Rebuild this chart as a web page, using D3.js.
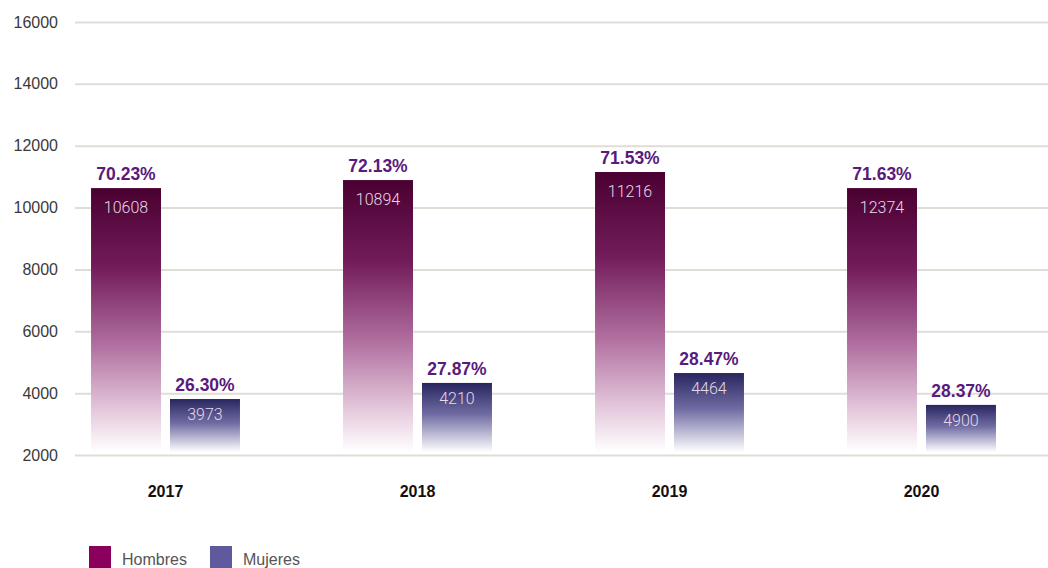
<!DOCTYPE html>
<meta charset="utf-8">
<script src="https://d3js.org/d3.v7.min.js"></script>
<style>
  body { margin: 0; background: #fff; }
  text { font-family: "Liberation Sans", Arial, sans-serif; }
</style>
<div id="my_dataviz"></div>
<script>

  // data
  var years = ["2017", "2018", "2019", "2020"];
  var series = ["Hombres", "Mujeres"];
  // bar heights as drawn
  var hombres = [10630, 10890, 11150, 10630];
  var mujeres = [3810, 4330, 4650, 3620];
  // labels as printed on the bars
  var hombresLabel = ["10608", "10894", "11216", "12374"];
  var mujeresLabel = ["3973", "4210", "4464", "4900"];
  var hombresPct = ["70.23%", "72.13%", "71.53%", "71.63%"];
  var mujeresPct = ["26.30%", "27.87%", "28.47%", "28.37%"];
  var yTicks = [2000, 4000, 6000, 8000, 10000, 12000, 14000, 16000];

  var width = 1048, height = 568;

  var svg = d3.select("#my_dataviz")
    .append("svg")
      .attr("width", width)
      .attr("height", height);

  // gradients for the bars
  var defs = svg.append("defs");
  var grads = {
    Hombres: [["0%", "#4a0031"], ["30%", "#721c5a"], ["60%", "#b271a1"], ["85%", "#e6cbde"], ["100%", "#ffffff"]],
    Mujeres: [["0%", "#29255f"], ["45%", "#6f6ba2"], ["100%", "#ffffff"]]
  };
  series.forEach(function(s) {
    var g = defs.append("linearGradient")
      .attr("id", "grad-" + s)
      .attr("x1", 0).attr("y1", 0).attr("x2", 0).attr("y2", 1);
    grads[s].forEach(function(st) {
      g.append("stop").attr("offset", st[0]).attr("stop-color", st[1]);
    });
  });

  // scales
  var y = d3.scaleLinear()
    .domain([2000, 16000])
    .range([455, 22]);

  var x = d3.scaleBand()
    .domain(years)
    .range([39.5, 1047.5])
    .paddingInner(0.409)
    .paddingOuter(0.2045);

  var xs = d3.scaleBand()
    .domain(series)
    .range([0, x.bandwidth()])
    .paddingInner(0.114);

  // y axis + gridlines
  var yAxis = svg.append("g")
    .attr("transform", "translate(75,0)")
    .call(d3.axisLeft(y)
      .tickValues(yTicks)
      .tickSize(-(width - 75))
      .tickPadding(17)
      .tickFormat(function(d) { return d; }));
  yAxis.select(".domain").remove();
  yAxis.selectAll("line")
    .attr("stroke", "#e0ddd7")
    .attr("stroke-width", 2);
  yAxis.selectAll("text")
    .style("font-size", "16px")
    .attr("fill", "#3a3a3a");

  var data = years.map(function(yr, i) {
    return [
      {year: yr, s: "Hombres", v: hombres[i], lab: hombresLabel[i], pct: hombresPct[i], off: 25},
      {year: yr, s: "Mujeres", v: mujeres[i], lab: mujeresLabel[i], pct: mujeresPct[i], off: 21}
    ];
  });

  var groups = svg.selectAll(".grp")
    .data(data)
    .enter()
    .append("g")
      .attr("class", "grp")
      .attr("transform", function(d) { return "translate(" + x(d[0].year) + ",0)"; });

  var bars = groups.selectAll(".bar")
    .data(function(d) { return d; })
    .enter()
    .append("g");

  bars.append("rect")
    .attr("x", function(d) { return xs(d.s); })
    .attr("y", function(d) { return y(d.v); })
    .attr("width", xs.bandwidth())
    .attr("height", function(d) { return y(2000) - 3 - y(d.v); })
    .attr("fill", function(d) { return "url(#grad-" + d.s + ")"; });

  // value inside the bar
  bars.append("text")
    .attr("x", function(d) { return xs(d.s) + xs.bandwidth() / 2; })
    .attr("y", function(d) { return y(d.v) + d.off; })
    .attr("text-anchor", "middle")
    .style("font-family", "Roboto, sans-serif")
    .style("font-weight", "300")
    .style("font-size", "16px")
    .attr("fill", "#e6d9e6")
    .text(function(d) { return d.lab; });

  // percentage above the bar
  bars.append("text")
    .attr("x", function(d) { return xs(d.s) + xs.bandwidth() / 2; })
    .attr("y", function(d) { return y(d.v) - 8; })
    .attr("text-anchor", "middle")
    .style("font-size", "17.5px")
    .style("font-weight", "bold")
    .attr("fill", "#5a1a7c")
    .text(function(d) { return d.pct; });

  // year labels
  svg.selectAll(".year")
    .data(years)
    .enter()
    .append("text")
      .attr("x", function(d) { return x(d) + x.bandwidth() / 2; })
      .attr("y", 497)
      .attr("text-anchor", "middle")
      .style("font-size", "16px")
      .style("font-weight", "bold")
      .attr("fill", "#111")
      .text(function(d) { return d; });

  // legend
  var legendColors = {Hombres: "#8a005c", Mujeres: "#5f5a9d"};
  var legendX = [89, 210];
  var legend = svg.selectAll(".legend")
    .data(series)
    .enter()
    .append("g")
      .attr("transform", function(d, i) { return "translate(" + legendX[i] + ",546)"; });
  legend.append("rect")
    .attr("width", 22)
    .attr("height", 22)
    .attr("fill", function(d) { return legendColors[d]; });
  legend.append("text")
    .attr("x", 33)
    .attr("y", 19)
    .style("font-size", "16px")
    .attr("fill", "#555")
    .text(function(d) { return d; });

</script>
